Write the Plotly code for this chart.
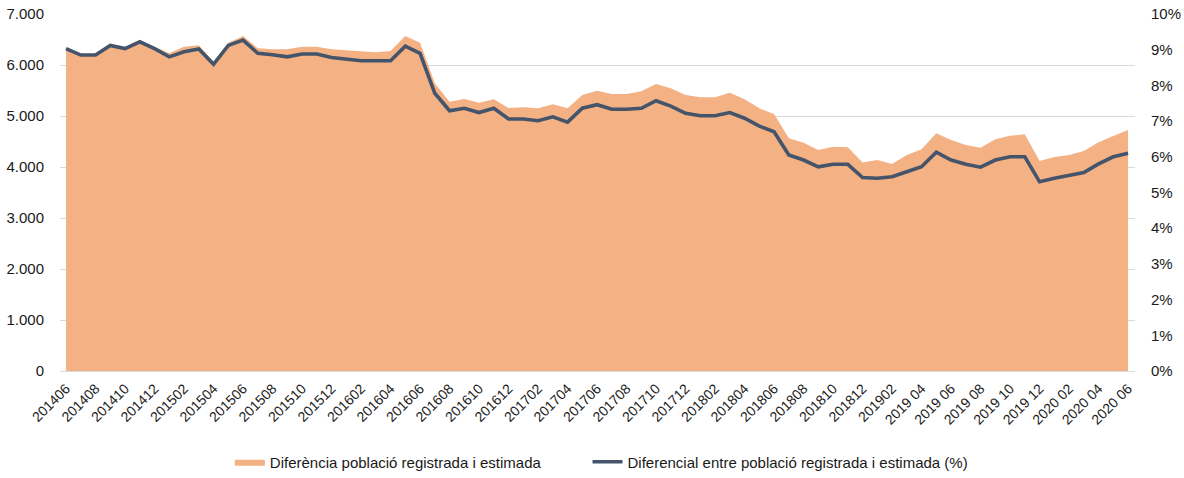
import plotly.graph_objects as go

months = [
    "201406", "201407", "201408", "201409", "201410", "201411", "201412",
    "201501", "201502", "201503", "201504", "201505", "201506", "201507", "201508",
    "201509", "201510", "201511", "201512",
    "201601", "201602", "201603", "201604", "201605", "201606", "201607", "201608",
    "201609", "201610", "201611", "201612",
    "201701", "201702", "201703", "201704", "201705", "201706", "201707", "201708",
    "201709", "201710", "201711", "201712",
    "201801", "201802", "201803", "201804", "201805", "201806", "201807", "201808",
    "201809", "201810", "201811", "201812",
    "201901", "201902", "2019 03", "2019 04", "2019 05", "2019 06", "2019 07", "2019 08",
    "2019 09", "2019 10", "2019 11", "2019 12",
    "2020 01", "2020 02", "2020 03", "2020 04", "2020 05", "2020 06",
]

tick_labels = months[::2]

diferencia = [
    6330, 6200, 6200, 6390, 6330, 6460, 6360, 6230, 6360, 6386, 6065, 6437, 6569, 6327,
    6307, 6307, 6360, 6360, 6307,
    6281, 6268, 6249, 6275, 6569, 6437, 5641, 5281, 5333, 5261, 5327, 5157, 5170, 5150,
    5229, 5150, 5412, 5496,
    5431, 5431, 5484, 5627, 5543, 5412, 5366, 5366, 5457, 5327, 5150, 5039, 4562, 4477,
    4333, 4399, 4386, 4090,
    4137, 4059, 4235, 4347, 4660, 4529, 4431, 4379, 4543, 4614, 4641, 4118, 4196, 4235,
    4314, 4484, 4608, 4725,
]

diferencial_pct = [
    9.03, 8.85, 8.85, 9.12, 9.03, 9.22, 9.03, 8.80, 8.94, 9.02, 8.59, 9.12, 9.27, 8.90,
    8.86, 8.80, 8.88, 8.88, 8.78,
    8.74, 8.69, 8.69, 8.69, 9.10, 8.90, 7.78, 7.29, 7.36, 7.24, 7.36, 7.06, 7.06, 7.01,
    7.12, 6.97, 7.36, 7.46,
    7.33, 7.33, 7.36, 7.57, 7.42, 7.22, 7.15, 7.15, 7.24, 7.08, 6.86, 6.70, 6.05, 5.91,
    5.72, 5.79, 5.79, 5.42,
    5.40, 5.44, 5.58, 5.72, 6.13, 5.91, 5.79, 5.71, 5.91, 6.00, 6.00, 5.30, 5.40, 5.48,
    5.56, 5.80, 6.00, 6.10,
]

left_ticks = [0, 1000, 2000, 3000, 4000, 5000, 6000, 7000]
right_ticks = [0, 1, 2, 3, 4, 5, 6, 7, 8, 9, 10]
right_labels = [f"{v}%" for v in right_ticks]

FONT = "Liberation Sans, Arial, sans-serif"
TXT = "#1a1a1a"

fig = go.Figure()
fig.add_trace(go.Scatter(
    x=months, y=diferencia,
    name="Diferència població registrada i estimada" + "\u00a0" * 10,
    mode="lines", fill="tozeroy",
    line=dict(width=0, color="#F4B183"),
    fillcolor="#F4B183",
    yaxis="y",
))
fig.add_trace(go.Scatter(
    x=months, y=diferencial_pct,
    name="Diferencial entre població registrada i estimada (%)",
    mode="lines",
    line=dict(width=3.6, color="#44546A"),
    yaxis="y2",
))

fig.update_layout(
    width=1184, height=478,
    margin=dict(l=60, r=49, t=14, b=107, autoexpand=False),
    paper_bgcolor="white", plot_bgcolor="white",
    separators=",.",
    font=dict(family=FONT, size=14, color=TXT),
    showlegend=True,
    legend=dict(
        orientation="h", x=0.158, xanchor="left", y=-0.255, yanchor="middle",
        font=dict(family=FONT, size=15, color=TXT),
        itemwidth=30,
    ),
    xaxis=dict(
        type="category",
        range=[-0.41, 72.47],
        tickmode="array", tickvals=tick_labels, ticktext=tick_labels,
        tickangle=-45,
        tickfont=dict(family=FONT, size=14, color=TXT),
        showgrid=False, zeroline=False, showline=False,
        ticks="outside", ticklen=3, tickcolor="rgba(0,0,0,0)",
        automargin=False,
    ),
    yaxis=dict(
        range=[0, 7000],
        tickmode="array", tickvals=left_ticks,
        tickformat=",d",
        showgrid=True, gridcolor="#D9D9D9", gridwidth=1,
        zeroline=True, zerolinecolor="#D9D9D9", zerolinewidth=1,
        showline=False,
        ticks="outside", ticklen=12, tickcolor="rgba(0,0,0,0)",
        tickfont=dict(family=FONT, size=15, color=TXT),
        automargin=False,
    ),
    yaxis2=dict(
        range=[0, 10], overlaying="y", side="right",
        tickmode="array", tickvals=right_ticks, ticktext=right_labels,
        showgrid=False, zeroline=False, showline=False,
        ticks="outside", ticklen=12, tickcolor="rgba(0,0,0,0)",
        tickfont=dict(family=FONT, size=15, color=TXT),
        automargin=False,
    ),
)

fig.write_html(
    "out.html",
    config={"displayModeBar": False},
    post_script="document.body.style.margin='0';document.body.style.overflow='hidden';",
)
